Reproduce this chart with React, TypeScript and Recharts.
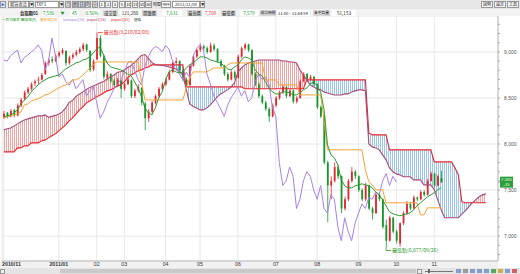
import React from 'react';
import { ComposedChart, Bar, Line, Area, XAxis, YAxis, CartesianGrid, ReferenceDot } from 'recharts';

// ---- data (2 trading days per slot) ----
const opens = [
  8290, 8340, 8300, 8370, 8310, 8420, 8490, 8560, 8600, 8660,
  8690, 8700, 8760, 8880, 8920, 8900, 8960, 8990, 9010, 8880,
  8940, 8970, 9000, 9030, 9080, 9010, 8810, 8920, 9150, 8950,
  8720, 8760, 8690, 8640, 8690, 8600, 8650, 8690, 8520, 8580,
  8610, 8440, 8280, 8350, 8450, 8520, 8600, 8650, 8700, 8780,
  8880, 8900, 8800, 8700, 8640, 8850, 8950, 9020, 9060, 9040,
  9000, 9070, 9030, 8900, 8850, 8760, 8700, 8780, 8720, 8950,
  9040, 9080, 9020, 8760, 8650, 8520, 8450, 8380, 8300, 8420,
  8500, 8560, 8620, 8520, 8580, 8460, 8500, 8680, 8760, 8700,
  8730, 8650, 8400, 8300, 7800, 7550, 7600, 7750, 7650, 7300,
  7400, 7600, 7700, 7650, 7500, 7400, 7550, 7300, 7250, 7450,
  7400, 7120, 6950, 7200, 7050, 6920, 7140, 7250, 7350, 7300,
  7420, 7400, 7480, 7450, 7600, 7680, 7550, 7631,
];
const highs = [
  8360, 8350, 8380, 8380, 8440, 8500, 8580, 8620, 8670, 8700,
  8730, 8770, 8900, 8930, 8950, 8980, 9010, 9040, 9020, 8960,
  8990, 9020, 9050, 9100, 9090, 9020, 8920, 9210, 9180, 8970,
  8790, 8770, 8710, 8720, 8700, 8670, 8730, 8700, 8600, 8650,
  8620, 8460, 8380, 8470, 8540, 8620, 8670, 8720, 8800, 8900,
  8940, 8910, 8820, 8720, 8870, 8970, 9040, 9090, 9080, 9060,
  9100, 9090, 9040, 8920, 8860, 8780, 8800, 8800, 8970, 9060,
  9100, 9090, 9030, 8780, 8670, 8540, 8470, 8400, 8440, 8520,
  8580, 8640, 8630, 8600, 8590, 8520, 8700, 8780, 8770, 8750,
  8740, 8660, 8420, 8310, 7820, 7650, 7800, 7770, 7660, 7430,
  7620, 7750, 7720, 7660, 7520, 7580, 7560, 7320, 7470, 7480,
  7410, 7180, 7220, 7210, 7070, 7150, 7270, 7380, 7370, 7440,
  7430, 7500, 7500, 7620, 7700, 7690, 7670, 7709,
];
const lows = [
  8270, 8280, 8290, 8290, 8300, 8400, 8470, 8540, 8580, 8630,
  8650, 8690, 8750, 8850, 8880, 8890, 8940, 8970, 8850, 8860,
  8920, 8950, 8980, 9010, 9000, 8780, 8790, 8910, 8940, 8700,
  8690, 8660, 8620, 8620, 8500, 8580, 8640, 8500, 8500, 8560,
  8420, 8150, 8240, 8330, 8430, 8500, 8580, 8630, 8690, 8770,
  8860, 8780, 8680, 8620, 8630, 8840, 8930, 9000, 9010, 8980,
  8990, 9010, 8880, 8830, 8740, 8680, 8690, 8700, 8710, 8930,
  9020, 9000, 8740, 8630, 8500, 8430, 8360, 8240, 8290, 8400,
  8480, 8540, 8500, 8510, 8440, 8440, 8490, 8670, 8680, 8690,
  8630, 8380, 8280, 7780, 7150, 7400, 7580, 7620, 7250, 7280,
  7380, 7580, 7620, 7480, 7380, 7380, 7280, 7180, 7240, 7380,
  7080, 6877, 6940, 7030, 6920, 6885, 7120, 7230, 7280, 7290,
  7380, 7390, 7430, 7440, 7590, 7530, 7540, 7579,
];
const closes = [
  8330, 8300, 8360, 8310, 8420, 8480, 8560, 8600, 8650, 8680,
  8700, 8750, 8880, 8913, 8900, 8960, 8990, 9020, 8880, 8940,
  8967, 9000, 9030, 9076, 9020, 8805, 8900, 9150, 8960, 8730,
  8760, 8680, 8640, 8700, 8600, 8650, 8700, 8520, 8580, 8620,
  8450, 8280, 8350, 8450, 8520, 8600, 8650, 8700, 8780, 8880,
  8900, 8800, 8700, 8640, 8850, 8950, 9020, 9060, 9040, 9000,
  9070, 9030, 8900, 8850, 8760, 8700, 8780, 8720, 8950, 9040,
  9080, 9020, 8760, 8650, 8520, 8450, 8380, 8300, 8420, 8500,
  8560, 8620, 8520, 8580, 8460, 8500, 8680, 8760, 8700, 8730,
  8650, 8400, 8300, 7800, 7550, 7600, 7750, 7650, 7300, 7400,
  7600, 7700, 7650, 7500, 7400, 7550, 7300, 7250, 7450, 7400,
  7100, 6950, 7200, 7050, 6950, 7140, 7250, 7350, 7300, 7420,
  7400, 7480, 7450, 7600, 7680, 7550, 7650, 7586,
];
const tenkan = [
  8295, 8306, 8316, 8338, 8371, 8436, 8479, 8512, 8566, 8609,
  8642, 8675, 8696, 8718, 8729, 8740, 8750, 8783, 8816, 8837,
  8859, 8881, 8891, 8913, 8924, 8946, 8989, 9033, 9054, 8967,
  8881, 8837, 8826, 8816, 8805, 8783, 8761, 8740, 8675, 8609,
  8512, 8392, 8338, 8316, 8392, 8501, 8566, 8696, 8783, 8805,
  8783, 8772, 8783, 8826, 8859, 8881, 8913, 8946, 8946, 8935,
  8913, 8902, 8891, 8881, 8848, 8816, 8805, 8837, 8859, 8913,
  8946, 8935, 8913, 8805, 8761, 8740, 8675, 8609, 8566, 8544,
  8544, 8566, 8566, 8555, 8533, 8533, 8555, 8588, 8609, 8653,
  8675, 8631, 8566, 8371, 7991, 7882, 7850, 7774, 7611, 7546,
  7524, 7524, 7546, 7557, 7568, 7557, 7546, 7524, 7481, 7448,
  7394, 7329, 7264, 7242, 7231, 7221, 7231, 7242, 7253, 7286,
  7329, 7362, 7394, 7427, 7448, 7470, 7503, 7524,
];
const kijun = [
  8284, 8295, 8306, 8316, 8327, 8349, 8425, 8436, 8468, 8479,
  8490, 8512, 8533, 8544, 8566, 8588, 8609, 8631, 8642, 8664,
  8696, 8696, 8718, 8750, 8783, 8826, 8859, 8891, 8891, 8891,
  8891, 8891, 8891, 8891, 8891, 8891, 8891, 8891, 8891, 8891,
  8675, 8479, 8479, 8479, 8479, 8479, 8479, 8479, 8479, 8479,
  8479, 8479, 8479, 8609, 8718, 8783, 8783, 8783, 8783, 8783,
  8805, 8826, 8826, 8826, 8826, 8859, 8880, 8880, 8880, 8880,
  8880, 8880, 8880, 8880, 8880, 8880, 8696, 8696, 8696, 8696,
  8642, 8642, 8642, 8642, 8642, 8642, 8533, 8533, 8533, 8533,
  8533, 8533, 8533, 8262, 7937, 7937, 7937, 7937, 7937, 7937,
  7937, 7937, 7937, 7937, 7937, 7720, 7590, 7557, 7503, 7503,
  7503, 7362, 7362, 7362, 7362, 7362, 7362, 7362, 7362, 7362,
  7362, 7231, 7231, 7307, 7307, 7307, 7307, 7307,
];
const span1 = [
  8154, 8165, 8175, 8197, 8219, 8241, 8262, 8273, 8284, 8295,
  8306, 8306, 8316, 8290, 8300, 8311, 8327, 8349, 8392, 8452,
  8474, 8517, 8544, 8566, 8593, 8615, 8631, 8647, 8664, 8680,
  8707, 8729, 8750, 8777, 8788, 8804, 8831, 8853, 8886, 8924,
  8962, 8972, 8929, 8886, 8864, 8858, 8853, 8848, 8837, 8826,
  8815, 8783, 8750, 8593, 8435, 8408, 8392, 8371, 8371, 8392,
  8425, 8468, 8512, 8544, 8566, 8588, 8620, 8664, 8783, 8826,
  8859, 8880, 8891, 8902, 8913, 8913, 8913, 8913, 8913, 8913,
  8913, 8902, 8902, 8891, 8891, 8880, 8805, 8750, 8696, 8642,
  8620, 8598, 8588, 8566, 8555, 8544, 8533, 8533, 8533, 8544,
  8544, 8566, 8577, 8588, 8588, 8580, 8000, 7969, 7958, 7937,
  7882, 7828, 7741, 7698, 7676, 7665, 7644, 7644, 7644, 7611,
  7611, 7611, 7557, 7557, 7557, 7503, 7394, 7286, 7199, 7199,
  7199, 7199, 7199, 7242, 7275, 7318, 7362, 7394, 7427, 7448,
  7459,
];
const span2 = [
  7915, 7915, 7915, 7915, 7958, 7958, 7980, 7980, 8013, 8013,
  8013, 8034, 8045, 8067, 8089, 8110, 8143, 8175, 8208, 8251,
  8284, 8327, 8371, 8403, 8447, 8468, 8490, 8512, 8533, 8555,
  8577, 8588, 8609, 8631, 8642, 8675, 8718, 8750, 8772, 8794,
  8805, 8826, 8837, 8859, 8859, 8859, 8859, 8859, 8859, 8859,
  8859, 8859, 8859, 8620, 8620, 8620, 8620, 8620, 8620, 8620,
  8620, 8620, 8620, 8620, 8620, 8620, 8620, 8620, 8620, 8620,
  8600, 8600, 8600, 8600, 8600, 8600, 8600, 8600, 8600, 8600,
  8600, 8600, 8600, 8600, 8600, 8600, 8600, 8600, 8696, 8696,
  8696, 8696, 8696, 8696, 8696, 8696, 8696, 8696, 8696, 8696,
  8696, 8696, 8696, 8696, 8696, 8696, 8121, 8099, 8099, 8099,
  8099, 8099, 7937, 7937, 7937, 7937, 7937, 7937, 7937, 7937,
  7937, 7937, 7937, 7937, 7937, 7806, 7806, 7806, 7806, 7806,
  7806, 7741, 7665, 7373, 7362, 7362, 7362, 7362, 7362, 7362,
  7362,
];
const CHIKOU_SHIFT = 13;
const SLOT_COUNT = 144;
const monthTicks = [0, 16, 27, 35, 47, 57, 68, 79, 91, 103, 114, 125];
const monthLabels = ['2010/11', '2011/01', '02', '03', '04', '05', '06', '07', '08', '09', '10', '11'];
const priceTicks = [7000, 7500, 8000, 8500, 9000];
const minorTicks = [6800, 6900, 7000, 7100, 7200, 7300, 7400, 7500, 7600, 7700, 7800, 7900, 8000, 8100, 8200, 8300, 8400, 8500, 8600, 8700, 8800, 8900, 9000, 9100, 9200, 9300];
const highMark = { slot: 27, price: 9210, text: '最高點(9,210/02/08)' };
const lowMark = { slot: 111, price: 6877, text: '最低點(6,877/09/26)' };
const lastPrice = 7586;
const legendItems = [
  { t: '一目均衡表 轉換線[9]', c: '#2a9a2a', x: 2 },
  { t: '基準線[26]', c: '#f39c1e', x: 40 },
  { t: 'lockspan[26]', c: '#a07de0', x: 63 },
  { t: 'pspan1[26]', c: '#b0406a', x: 87 },
  { t: 'pspan2[52]', c: '#e8232d', x: 111 },
  { t: '價格', c: '#333', x: 134 },
];

const data = Array.from({ length: SLOT_COUNT }, (_, i) => {
  const has = i < closes.length;
  const s1 = span1[i];
  const s2 = span2[i];
  const top = s1 != null && s2 != null ? Math.max(s1, s2) : null;
  return {
    i,
    hl: has ? [lows[i], highs[i]] : null,
    open: has ? opens[i] : null,
    high: has ? highs[i] : null,
    low: has ? lows[i] : null,
    close: has ? closes[i] : null,
    tenkan: tenkan[i] ?? null,
    kijun: kijun[i] ?? null,
    chikou: closes[i + CHIKOU_SHIFT] ?? null,
    span1: s1 ?? null,
    span2: s2 ?? null,
    red: top != null ? [s2, top] : null,
    blue: top != null ? [s1, top] : null,
  };
});

const FONT = '"Noto Sans CJK TC", "Noto Sans", Arial, sans-serif';

const Candle = (p: any) => {
  const { x, y, width, height, payload } = p;
  if (!payload || payload.high == null || height == null) return null;
  const { open, close, high, low } = payload;
  const top = Math.min(y, y + height);
  const h = Math.abs(height);
  const range = high - low || 1;
  const yOf = (v: number) => top + ((high - v) / range) * h;
  const up = close >= open;
  const color = up ? '#e8232d' : '#16962a';
  const cx = x + width / 2;
  const bTop = yOf(Math.max(open, close));
  const bBot = yOf(Math.min(open, close));
  return (
    <g>
      <line x1={cx} x2={cx} y1={top} y2={top + h} stroke={color} strokeWidth={0.8} />
      <rect x={cx - 0.9} y={bTop} width={1.8} height={Math.max(0.8, bBot - bTop)} fill={color} />
    </g>
  );
};

const XTick = (p: any) => {
  const { x, payload } = p;
  const idx = monthTicks.indexOf(payload.value);
  const label = monthLabels[idx] ?? '';
  const first = idx === 0;
  return (
    <text x={first ? 2 : x} y={266} textAnchor={first ? 'start' : 'middle'} fontSize={5.3}
      fontWeight={idx < 2 ? 700 : 400} fill="#333" fontFamily="Arial, sans-serif">{label}</text>
  );
};

const YTick = (p: any) => {
  const { x, y, payload } = p;
  const v = payload.value;
  if (v === lastPrice) {
    return (
      <g>
        <rect x={x - 2} y={y - 5.5} width={13} height={11} fill="#2e9e3a" />
        <text x={x + 4.5} y={y - 1} textAnchor="middle" fontSize={4.4} fill="#d8f5d8" fontFamily="Arial">7,586</text>
        <text x={x + 4.5} y={y + 4} textAnchor="middle" fontSize={4.4} fill="#d8f5d8" fontFamily="Arial">-45</text>
      </g>
    );
  }
  if (v % 500 !== 0) return null;
  return (
    <text x={x + 2} y={y + 1.8} fontSize={5} fill="#555" fontFamily="Arial, sans-serif">{v.toLocaleString('en-US')}</text>
  );
};

const HighShape = (p: any) => {
  const { cx, cy } = p;
  return (
    <g>
      <line x1={cx + 1} x2={cx + 6} y1={cy} y2={cy} stroke="#e33" strokeWidth={0.8} />
      <text x={cx + 7} y={cy + 1.8} fontSize={5} fill="#e33" fontFamily={FONT}>{highMark.text}</text>
    </g>
  );
};
const LowShape = (p: any) => {
  const { cx, cy } = p;
  return (
    <g>
      <line x1={cx} x2={cx} y1={cy} y2={cy + 3} stroke="#2a9a2a" strokeWidth={0.8} />
      <line x1={cx} x2={cx + 5} y1={cy + 3} y2={cy + 3} stroke="#2a9a2a" strokeWidth={0.8} />
      <text x={cx + 6} y={cy + 4.8} fontSize={5} fill="#2a9a2a" fontFamily={FONT}>{lowMark.text}</text>
    </g>
  );
};

const Box = ({ x, y, w, h, t, bg, c, b, fs, bold, align }: any) => (
  <div style={{
    position: 'absolute', left: x, top: y, width: w, height: h, background: bg || 'transparent',
    border: b ? `1px solid ${b}` : 'none', boxSizing: 'border-box', color: c || '#222', fontSize: fs || 5,
    fontWeight: bold ? 700 : 400, lineHeight: `${h - (b ? 2 : 0)}px`, textAlign: align || 'center',
    whiteSpace: 'nowrap', overflow: 'hidden', fontFamily: FONT,
  }}>{t}</div>
);

const periodBtns = ['月', '週', '日', '時', '分', '1', '2', '3', '5', '10', '15', '30', '60'];

function Header() {
  return (
    <>
      <div style={{ position: 'absolute', left: 0, top: 0, width: 520, height: 9, background: '#e6e6e6' }} />
      <Box x={0} y={1} w={6} h={7} t="▶" c="#3366cc" b="#99a" bg="#dfe6f5" fs={3.5} />
      <Box x={8} y={1} w={21} h={7} t="期貨商品" b="#999" bg="#fff" fs={4.2} />
      <Box x={29} y={1} w={5} h={7} t="▼" b="#999" bg="#eee" fs={3.5} />
      <Box x={35} y={1} w={24} h={7} t="TXF1" b="#999" bg="#fff" align="left" fs={4.5} />
      <Box x={59} y={1} w={5} h={7} t="▼" b="#999" bg="#eee" fs={3.5} />
      {periodBtns.map((t, k) => (
        <Box key={t} x={65 + k * 6.7} y={1} w={6.2} h={7} t={t} b="#999" bg={t === '日' ? '#cfd8e8' : '#f4f4f4'} fs={4.2} />
      ))}
      <Box x={153} y={1} w={8} h={7} t="時間" fs={4} />
      <Box x={161} y={1} w={10} h={7} t="999" b="#999" bg="#fff" fs={4.2} />
      <Box x={172} y={1} w={28} h={7} t="2011/11/08" b="#999" bg="#fff" fs={4.2} />
      <Box x={200} y={1} w={5} h={7} t="▼" b="#999" bg="#eee" fs={3.5} />
      <Box x={481} y={1} w={12} h={7} t="說明" b="#999" bg="#f4f4f4" fs={4} />
      <Box x={494} y={1} w={12} h={7} t="設定" b="#999" bg="#f4f4f4" fs={4} />
      <Box x={507} y={1} w={12} h={7} t="工具" b="#999" bg="#f4f4f4" fs={4} />

      <div style={{ position: 'absolute', left: 0, top: 9, width: 520, height: 7, background: '#f2f2f2' }} />
      <Box x={18} y={9.5} w={22} h={6} t="台指期01" bold fs={4.3} />
      <Box x={42} y={9.5} w={13} h={6} t="7,586" c="#1a9a2a" fs={4.6} bg="#fff" />
      <Box x={60} y={9.5} w={5} h={6} t="▼" c="#1a9a2a" fs={4} />
      <Box x={70} y={9.5} w={9} h={6} t="45" c="#1a9a2a" fs={4.6} bg="#fff" />
      <Box x={85} y={9.5} w={14} h={6} t="0.56%" c="#1a9a2a" fs={4.6} bg="#fff" />
      <Box x={103} y={9.5} w={15} h={6} t="成交量" bg="#d8d8d8" fs={4.2} />
      <Box x={120} y={9.5} w={20} h={6} t="121,280" fs={4.6} bg="#fff" />
      <Box x={142} y={9.5} w={15} h={6} t="開盤價" bg="#d8d8d8" fs={4.2} />
      <Box x={162} y={9.5} w={20} h={6} t="7,631" c="#1a9a2a" fs={4.6} bg="#fff" />
      <Box x={187} y={9.5} w={15} h={6} t="最高價" bg="#d8d8d8" fs={4.2} />
      <Box x={203} y={9.5} w={15} h={6} t="7,709" c="#e8232d" fs={4.6} bg="#fff" />
      <Box x={221} y={9.5} w={15} h={6} t="最低價" bg="#d8d8d8" fs={4.2} />
      <Box x={240} y={9.5} w={18} h={6} t="7,579" c="#1a9a2a" fs={4.6} bg="#fff" />
      <Box x={260} y={9.5} w={16} h={6} t="成交時間" bg="#d8d8d8" fs={3.8} />
      <Box x={277} y={9.5} w={32} h={6} t="11:00 - 13:44:59" fs={4.2} bg="#fff" />
      <Box x={313} y={9.5} w={17} h={6} t="未平倉量" bg="#d8d8d8" fs={3.8} />
      <Box x={332} y={9.5} w={24} h={6} t="51,153" fs={4.6} bg="#fff" />
    </>
  );
}

function Legend() {
  return (
    <>
      {legendItems.map((it) => (
        <div key={it.t} style={{ position: 'absolute', left: it.x, top: 16.5, fontSize: 3.6, lineHeight: '5px', color: it.c, fontFamily: FONT, whiteSpace: 'nowrap' }}>{it.t}</div>
      ))}
    </>
  );
}

function Footer() {
  const icons = ['#6a8cc8', '#888', '#6a8cc8', '#6a8cc8', '#6a8cc8', '#3a9a3a', '#c8a020', '#6a8cc8', '#d04040'];
  return (
    <>
      <div style={{ position: 'absolute', left: 0, top: 268, width: 520, height: 6, background: '#e4e4e4' }} />
      <div style={{ position: 'absolute', left: 0, top: 268.5, width: 5, height: 5, background: '#eee', border: '1px solid #999', boxSizing: 'border-box' }} />
      <div style={{ position: 'absolute', left: 60, top: 269, width: 356, height: 4, background: '#c9c9c9' }} />
      <div style={{ position: 'absolute', left: 417, top: 268.5, width: 5, height: 5, background: '#eee', border: '1px solid #999', boxSizing: 'border-box' }} />
      <div style={{ position: 'absolute', left: 425, top: 270.5, width: 28, height: 1, background: '#777' }} />
      <div style={{ position: 'absolute', left: 428, top: 269, width: 2, height: 4, background: '#666' }} />
      {icons.map((c, k) => (
        <div key={k} style={{ position: 'absolute', left: 456 + k * 7, top: 269, width: 5, height: 4, background: c, opacity: 0.8 }} />
      ))}
    </>
  );
}

export default function App() {
  return (
    <div style={{ position: 'fixed', left: 0, top: 0, width: 520, height: 274, background: '#fff', overflow: 'hidden' }}>
      <div style={{ position: 'absolute', left: 0, top: 261, width: 498, height: 7, background: '#f1f1f1' }} />
      <div style={{ position: 'absolute', left: 0, top: 0 }}>
        <ComposedChart width={520} height={274} data={data} margin={{ top: 16, right: 0, bottom: 0, left: 2 }}>
          <defs>
            <pattern id="hatchRed" width="2" height="2" patternUnits="userSpaceOnUse">
              <rect x="0" y="0" width="1" height="2" fill="#f3a2a2" />
            </pattern>
            <pattern id="hatchBlue" width="2" height="2" patternUnits="userSpaceOnUse">
              <rect x="0" y="0" width="1" height="2" fill="#98c6ee" />
            </pattern>
          </defs>
          <CartesianGrid yAxisId="grid" stroke="#e8e8e8" strokeWidth={1} />
          <XAxis dataKey="i" type="category" ticks={monthTicks} interval={0} tick={<XTick />} tickLine={false}
            tickSize={0} tickMargin={0} axisLine={{ stroke: '#bbb' }} height={13} />
          <YAxis yAxisId="grid" hide domain={[6730, 9390]} ticks={priceTicks} allowDataOverflow />
          <YAxis yAxisId="p" orientation="right" width={22} domain={[6730, 9390]} allowDataOverflow
            ticks={[...minorTicks, lastPrice]} interval={0} tick={<YTick />} tickSize={2}
            tickLine={{ stroke: '#aaa' }} axisLine={{ stroke: '#bbb' }} />
          <Area yAxisId="p" dataKey="red" type="linear" stroke="none" fill="url(#hatchRed)" fillOpacity={1}
            isAnimationActive={false} dot={false} activeDot={false} />
          <Area yAxisId="p" dataKey="blue" type="linear" stroke="none" fill="url(#hatchBlue)" fillOpacity={1}
            isAnimationActive={false} dot={false} activeDot={false} />
          <Line yAxisId="p" dataKey="span2" type="linear" stroke="#e3262f" strokeWidth={1.1} dot={false} activeDot={false} isAnimationActive={false} />
          <Line yAxisId="p" dataKey="span1" type="linear" stroke="#a8497a" strokeWidth={1.1} dot={false} activeDot={false} isAnimationActive={false} />
          <Line yAxisId="p" dataKey="chikou" type="linear" stroke="#a882e6" strokeWidth={1} dot={false} activeDot={false} isAnimationActive={false} />
          <Line yAxisId="p" dataKey="kijun" type="linear" stroke="#f7a234" strokeWidth={1} dot={false} activeDot={false} isAnimationActive={false} />
          <Bar yAxisId="p" dataKey="hl" barSize={2} shape={(p: any) => <Candle {...p} />} isAnimationActive={false} />
          <Line yAxisId="p" dataKey="tenkan" type="linear" stroke="#2c9a34" strokeWidth={1} dot={false} activeDot={false} isAnimationActive={false} />
          <ReferenceDot yAxisId="p" x={highMark.slot} y={highMark.price} r={0} shape={(p: any) => <HighShape {...p} />} />
          <ReferenceDot yAxisId="p" x={lowMark.slot} y={lowMark.price} r={0} shape={(p: any) => <LowShape {...p} />} />
        </ComposedChart>
      </div>
      <Header />
      <Legend />
      <Footer />
    </div>
  );
}
